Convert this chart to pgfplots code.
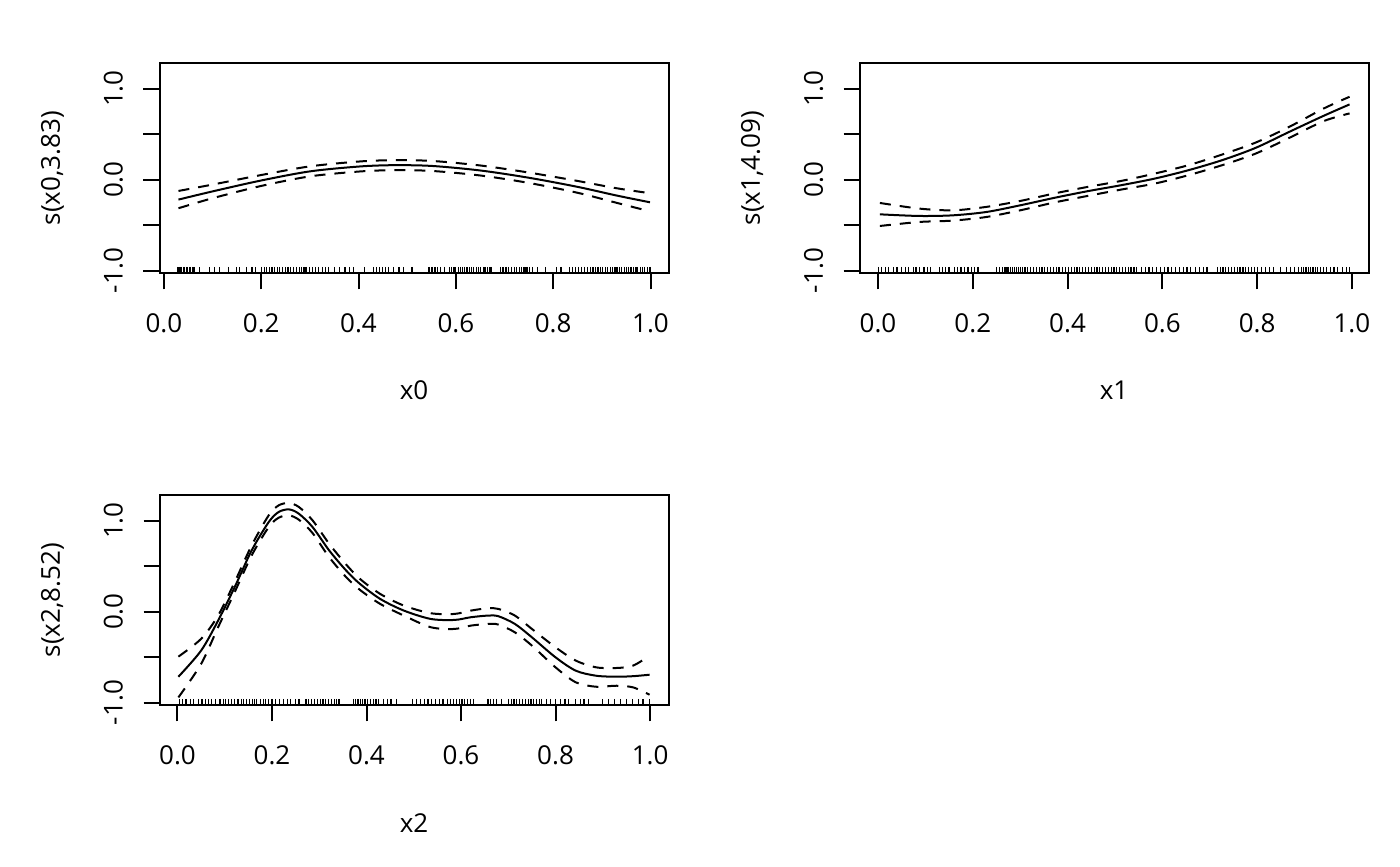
\documentclass[border=0pt]{standalone}
\usepackage{pgfplots}
\pgfplotsset{compat=1.18}
\usepackage{pgfplotstable}
\usepackage{fontspec}
\setmainfont{Open Sans}
\newcommand{\lblfont}{\fontsize{13}{15}\selectfont}

% ---------- panel 1 : s(x0,3.83) ----------
\pgfplotstableread{
x fit up lo
0.030 -0.220 -0.125 -0.315
0.100 -0.130 -0.055 -0.205
0.200 -0.010  0.050 -0.070
0.300  0.090  0.145  0.035
0.400  0.143  0.198  0.088
0.470  0.158  0.213  0.103
0.550  0.150  0.205  0.095
0.650  0.100  0.155  0.045
0.750  0.020  0.077 -0.037
0.850 -0.080 -0.015 -0.145
0.930 -0.175 -0.095 -0.255
0.999 -0.250 -0.150 -0.350
}\panelA

% ---------- panel 2 : s(x1,4.09) ----------
\pgfplotstableread{
x fit up lo
0.004 -0.382 -0.257 -0.510
0.087 -0.400 -0.319 -0.466
0.158 -0.393 -0.338 -0.451
0.229 -0.356 -0.300 -0.411
0.300 -0.283 -0.235 -0.338
0.371 -0.202 -0.154 -0.253
0.442 -0.128 -0.081 -0.180
0.513 -0.062 -0.015 -0.110
0.584  0.011  0.066 -0.044
0.655  0.103  0.158  0.048
0.726  0.213  0.275  0.158
0.797  0.349  0.407  0.286
0.868  0.525  0.580  0.459
0.940  0.700  0.780  0.642
0.995  0.826  0.910  0.727
}\panelB

% ---------- panel 3 : s(x2,8.52) ----------
\pgfplotstableread{
x fit up lo
0.002 -0.716 -0.495 -0.943
0.050 -0.429 -0.300 -0.576
0.086 -0.099 -0.044 -0.172
0.121  0.268  0.323  0.213
0.157  0.672  0.727  0.617
0.193  0.983  1.057  0.928
0.214  1.094  1.167  1.031
0.236  1.123  1.193  1.057
0.257  1.075  1.149  1.009
0.286  0.928  1.002  0.862
0.321  0.672  0.745  0.598
0.357  0.451  0.517  0.378
0.386  0.305  0.360  0.239
0.429  0.139  0.194  0.084
0.479  0.011  0.066 -0.044
0.536 -0.081 -0.018 -0.172
0.586 -0.092 -0.026 -0.191
0.621 -0.062  0.011 -0.154
0.657 -0.044  0.037 -0.136
0.679 -0.051  0.029 -0.143
0.714 -0.136 -0.044 -0.228
0.750 -0.283 -0.191 -0.374
0.800 -0.503 -0.393 -0.613
0.843 -0.650 -0.539 -0.778
0.886 -0.705 -0.613 -0.826
0.929 -0.716 -0.620 -0.815
0.964 -0.710 -0.594 -0.833
0.999 -0.694 -0.484 -0.914
}\panelC

\pgfplotsset{
  gam/.style={
    scale only axis, width=254.5pt, height=105pt,
    anchor=south west,
    ymin=-1.03, ymax=1.278,
    axis line style={line width=1pt, black},
    tick align=outside, xtick pos=bottom, ytick pos=left,
    major tick length=8pt,
    major tick style={line width=1pt, black},
    xtick={0,0.2,0.4,0.6,0.8,1.0},
    xticklabels={0.0,0.2,0.4,0.6,0.8,1.0},
    ytick={-1,-0.5,0,0.5,1},
    yticklabels={-1.0,,0.0,,1.0},
    xticklabel style={font=\lblfont, anchor=center, yshift=-16.8pt},
    yticklabel style={font=\lblfont, anchor=center, xshift=-15pt, rotate=90},
    every axis x label/.style={at={(axis description cs:0.5,0)}, anchor=center, yshift=-58.7pt, font=\lblfont},
    every axis y label/.style={at={(axis description cs:0,0.5)}, xshift=-53.5pt, rotate=90, anchor=center, font=\lblfont},
    clip=true,
  },
  fitline/.style={black, line width=1pt, smooth, no marks},
  seline/.style={black, line width=1pt, smooth, no marks, dash pattern=on 5.5pt off 4.5pt},
  rugline/.style={black, only marks, mark=|, mark size=1.625pt, mark options={line width=0.6pt}},
}

\begin{document}
\begin{tikzpicture}
\useasboundingbox (0,0) rectangle (700pt,433pt);

\begin{axis}[gam, at={(79.75pt,296.35pt)}, xmin=-0.009, xmax=1.037,
  xlabel={x0}, ylabel={s(x0,3.83)}]
  \addplot[fitline] table[x=x, y=fit] {\panelA};
  \addplot[seline] table[x=x, y=up] {\panelA};
  \addplot[seline] table[x=x, y=lo] {\panelA};
  \addplot[rugline] coordinates {
(0.028,-0.994) (0.031,-0.994) (0.034,-0.994) (0.037,-0.994) (0.040,-0.994) (0.043,-0.994) (0.046,-0.994) (0.049,-0.994) (0.052,-0.994) (0.055,-0.994) (0.058,-0.994) (0.061,-0.994) (0.063,-0.994)
(0.073,-0.994) (0.094,-0.994) (0.104,-0.994) (0.115,-0.994) (0.132,-0.994) (0.149,-0.994) (0.156,-0.994) (0.170,-0.994) (0.181,-0.994) (0.188,-0.994)
(0.201,-0.994) (0.206,-0.994) (0.211,-0.994) (0.217,-0.994) (0.222,-0.994) (0.228,-0.994) (0.233,-0.994) (0.238,-0.994) (0.244,-0.994) (0.250,-0.994) (0.255,-0.994) (0.261,-0.994) (0.266,-0.994) (0.272,-0.994) (0.278,-0.994) (0.283,-0.994) (0.288,-0.994) (0.292,-0.994)
(0.300,-0.994) (0.306,-0.994) (0.312,-0.994) (0.318,-0.994) (0.326,-0.994) (0.332,-0.994) (0.339,-0.994)
(0.351,-0.994) (0.361,-0.994) (0.372,-0.994) (0.382,-0.994) (0.389,-0.994) (0.413,-0.994)
(0.431,-0.994) (0.437,-0.994) (0.443,-0.994) (0.449,-0.994) (0.455,-0.994) (0.462,-0.994) (0.472,-0.994) (0.483,-0.994) (0.493,-0.994) (0.510,-0.994)
(0.545,-0.994) (0.551,-0.994) (0.557,-0.994) (0.563,-0.994) (0.569,-0.994) (0.576,-0.994)
(0.587,-0.994) (0.591,-0.994) (0.596,-0.994) (0.600,-0.994) (0.605,-0.994) (0.609,-0.994) (0.614,-0.994) (0.618,-0.994) (0.623,-0.994) (0.628,-0.994) (0.632,-0.994) (0.637,-0.994) (0.642,-0.994) (0.646,-0.994) (0.651,-0.994) (0.656,-0.994) (0.660,-0.994) (0.665,-0.994) (0.670,-0.994) (0.674,-0.994)
(0.691,-0.994) (0.697,-0.994) (0.703,-0.994) (0.709,-0.994) (0.715,-0.994) (0.720,-0.994) (0.725,-0.994) (0.730,-0.994) (0.735,-0.994) (0.740,-0.994) (0.744,-0.994) (0.748,-0.994) (0.752,-0.994) (0.757,-0.994)
(0.767,-0.994) (0.785,-0.994) (0.806,-0.994) (0.816,-0.994)
(0.833,-0.994) (0.840,-0.994) (0.846,-0.994) (0.852,-0.994) (0.858,-0.994) (0.864,-0.994) (0.870,-0.994) (0.876,-0.994) (0.882,-0.994) (0.887,-0.994) (0.892,-0.994) (0.897,-0.994) (0.902,-0.994) (0.907,-0.994) (0.912,-0.994) (0.917,-0.994)
(0.922,-0.994) (0.927,-0.994) (0.931,-0.994) (0.936,-0.994) (0.941,-0.994) (0.946,-0.994) (0.951,-0.994) (0.955,-0.994) (0.960,-0.994) (0.965,-0.994) (0.970,-0.994) (0.974,-0.994) (0.979,-0.994) (0.984,-0.994) (0.988,-0.994) (0.993,-0.994) (0.999,-0.994)
  };
\end{axis}

\begin{axis}[gam, at={(429.75pt,296.35pt)}, xmin=-0.039, xmax=1.035,
  xlabel={x1}, ylabel={s(x1,4.09)}]
  \addplot[fitline] table[x=x, y=fit] {\panelB};
  \addplot[seline] table[x=x, y=up] {\panelB};
  \addplot[seline] table[x=x, y=lo] {\panelB};
  \addplot[rugline] coordinates {
(0.001,-0.994) (0.008,-0.994) (0.015,-0.994) (0.022,-0.994) (0.032,-0.994) (0.040,-0.994) (0.050,-0.994) (0.058,-0.994) (0.065,-0.994) (0.075,-0.994) (0.080,-0.994) (0.087,-0.994)
(0.097,-0.994) (0.104,-0.994) (0.111,-0.994) (0.129,-0.994) (0.136,-0.994) (0.143,-0.994) (0.150,-0.994)
(0.161,-0.994) (0.168,-0.994) (0.175,-0.994) (0.183,-0.994) (0.190,-0.994) (0.197,-0.994) (0.204,-0.994) (0.211,-0.994)
(0.250,-0.994) (0.256,-0.994) (0.262,-0.994) (0.268,-0.994) (0.272,-0.994) (0.276,-0.994) (0.280,-0.994) (0.284,-0.994) (0.288,-0.994) (0.292,-0.994) (0.296,-0.994) (0.300,-0.994) (0.305,-0.994) (0.310,-0.994) (0.316,-0.994) (0.322,-0.994)
(0.328,-0.994) (0.334,-0.994) (0.340,-0.994) (0.346,-0.994) (0.352,-0.994) (0.358,-0.994) (0.364,-0.994) (0.370,-0.994) (0.376,-0.994) (0.382,-0.994)
(0.390,-0.994) (0.396,-0.994) (0.402,-0.994) (0.408,-0.994) (0.414,-0.994) (0.420,-0.994) (0.426,-0.994) (0.432,-0.994) (0.438,-0.994) (0.444,-0.994) (0.450,-0.994) (0.456,-0.994) (0.462,-0.994) (0.468,-0.994)
(0.474,-0.994) (0.480,-0.994) (0.486,-0.994) (0.492,-0.994) (0.498,-0.994) (0.504,-0.994) (0.510,-0.994) (0.516,-0.994) (0.522,-0.994) (0.528,-0.994) (0.534,-0.994) (0.540,-0.994) (0.546,-0.994)
(0.556,-0.994) (0.564,-0.994) (0.572,-0.994) (0.580,-0.994) (0.588,-0.994) (0.596,-0.994) (0.604,-0.994) (0.612,-0.994) (0.620,-0.994) (0.628,-0.994) (0.636,-0.994) (0.644,-0.994) (0.652,-0.994) (0.660,-0.994)
(0.670,-0.994) (0.678,-0.994) (0.686,-0.994) (0.694,-0.994)
(0.716,-0.994) (0.722,-0.994) (0.728,-0.994) (0.734,-0.994) (0.740,-0.994) (0.746,-0.994) (0.752,-0.994) (0.758,-0.994) (0.764,-0.994) (0.770,-0.994) (0.776,-0.994) (0.782,-0.994) (0.788,-0.994) (0.794,-0.994) (0.800,-0.994)
(0.810,-0.994) (0.818,-0.994) (0.826,-0.994) (0.834,-0.994) (0.850,-0.994) (0.862,-0.994) (0.870,-0.994) (0.878,-0.994) (0.888,-0.994)
(0.893,-0.994) (0.898,-0.994) (0.903,-0.994) (0.908,-0.994) (0.913,-0.994) (0.918,-0.994) (0.923,-0.994) (0.928,-0.994) (0.934,-0.994) (0.940,-0.994) (0.946,-0.994)
(0.955,-0.994) (0.962,-0.994) (0.970,-0.994) (0.980,-0.994) (0.988,-0.994) (0.995,-0.994)
  };
\end{axis}

\begin{axis}[gam, at={(79.75pt,80.35pt)}, xmin=-0.038, xmax=1.039,
  xlabel={x2}, ylabel={s(x2,8.52)}]
  \addplot[fitline] table[x=x, y=fit] {\panelC};
  \addplot[seline] table[x=x, y=up] {\panelC};
  \addplot[seline] table[x=x, y=lo] {\panelC};
  \addplot[rugline] coordinates {
(0.004,-0.994) (0.010,-0.994) (0.018,-0.994) (0.028,-0.994) (0.034,-0.994) (0.045,-0.994) (0.052,-0.994) (0.060,-0.994) (0.066,-0.994) (0.072,-0.994) (0.080,-0.994) (0.090,-0.994) (0.097,-0.994) (0.102,-0.994)
(0.108,-0.994) (0.115,-0.994) (0.121,-0.994) (0.128,-0.994) (0.135,-0.994) (0.140,-0.994) (0.146,-0.994) (0.152,-0.994) (0.158,-0.994) (0.163,-0.994) (0.168,-0.994) (0.175,-0.994) (0.182,-0.994) (0.186,-0.994)
(0.192,-0.994) (0.200,-0.994) (0.208,-0.994) (0.216,-0.994) (0.224,-0.994) (0.232,-0.994) (0.240,-0.994) (0.250,-0.994) (0.257,-0.994)
(0.272,-0.994) (0.278,-0.994) (0.284,-0.994) (0.290,-0.994) (0.296,-0.994) (0.302,-0.994) (0.308,-0.994) (0.314,-0.994) (0.320,-0.994) (0.326,-0.994) (0.332,-0.994) (0.337,-0.994) (0.342,-0.994)
(0.372,-0.994) (0.377,-0.994) (0.382,-0.994) (0.387,-0.994) (0.392,-0.994) (0.397,-0.994) (0.402,-0.994) (0.408,-0.994) (0.414,-0.994) (0.420,-0.994) (0.426,-0.994)
(0.436,-0.994) (0.444,-0.994) (0.452,-0.994) (0.464,-0.994)
(0.497,-0.994) (0.505,-0.994) (0.515,-0.994) (0.522,-0.994) (0.530,-0.994) (0.538,-0.994) (0.546,-0.994) (0.554,-0.994) (0.562,-0.994)
(0.572,-0.994) (0.578,-0.994) (0.584,-0.994) (0.590,-0.994) (0.596,-0.994) (0.602,-0.994) (0.608,-0.994) (0.614,-0.994) (0.620,-0.994) (0.627,-0.994)
(0.657,-0.994) (0.663,-0.994) (0.669,-0.994) (0.675,-0.994) (0.685,-0.994)
(0.700,-0.994) (0.706,-0.994) (0.712,-0.994) (0.718,-0.994) (0.724,-0.994) (0.730,-0.994) (0.736,-0.994) (0.742,-0.994) (0.748,-0.994) (0.754,-0.994) (0.760,-0.994) (0.766,-0.994) (0.771,-0.994)
(0.780,-0.994) (0.790,-0.994) (0.800,-0.994) (0.811,-0.994) (0.820,-0.994) (0.828,-0.994) (0.843,-0.994) (0.852,-0.994) (0.860,-0.994) (0.869,-0.994)
(0.900,-0.994) (0.912,-0.994) (0.925,-0.994) (0.937,-0.994) (0.950,-0.994) (0.962,-0.994) (0.975,-0.994) (0.985,-0.994) (0.999,-0.994)
  };
\end{axis}
\end{tikzpicture}
\end{document}
